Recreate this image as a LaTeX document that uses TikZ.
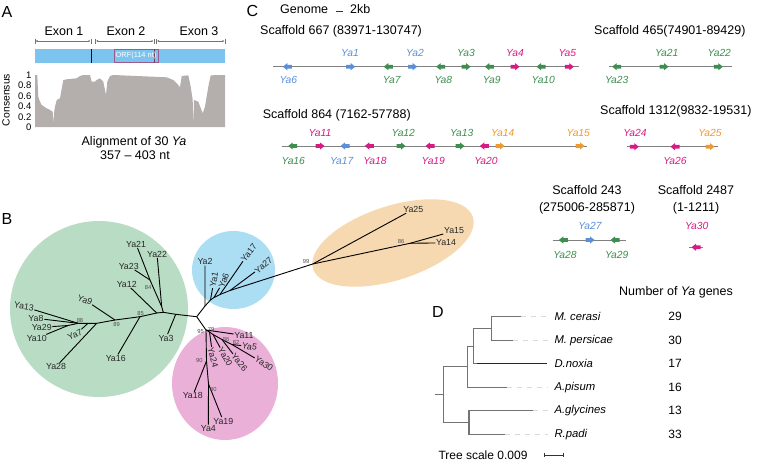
\documentclass[tikz,border=0pt]{standalone}
\usepackage{fontspec}
\setmainfont{Liberation Sans}
\usetikzlibrary{positioning, calc, arrows.meta}

\definecolor{yablue}{HTML}{5B8FD9}
\definecolor{yagreen}{HTML}{3E8E4F}
\definecolor{yapink}{HTML}{D81B84}
\definecolor{yaorange}{HTML}{EE9A2E}
\definecolor{barblue}{HTML}{7CC3EE}
\definecolor{orfline}{HTML}{9B5B8F}
\definecolor{consgray}{HTML}{B4AEAD}
\definecolor{cladegreen}{HTML}{B9DDC4}
\definecolor{cladeblue}{HTML}{ABDDF3}
\definecolor{cladeorange}{HTML}{F6D9B1}
\definecolor{cladepink}{HTML}{EAB0D7}

\tikzset{
  panel/.style={font=\fontsize{16}{16}\selectfont, inner sep=0pt},
  txt/.style={font=\fontsize{12.5}{16.6}\selectfont, inner sep=0pt},
  axlab/.style={font=\fontsize{9.5}{10}\selectfont, inner sep=0pt},
  genelab/.style={font=\fontsize{10.3}{12}\selectfont\itshape, inner sep=0pt},
  leaf/.style={font=\fontsize{8.8}{10}\selectfont, inner sep=0.6pt, text=black!85},
  boot/.style={font=\fontsize{5.8}{6}\selectfont, inner sep=0pt, text=black!70},
  branch/.style={line width=0.9pt, black},
  scaf/.style={line width=0.8pt, black!50},
  dimline/.style={line width=0.5pt, black!55},
  dtree/.style={line width=1.1pt, black!55},
  dext/.style={line width=0.8pt, black!15, dash pattern=on 5pt off 5pt},
}

\begin{document}
\begin{tikzpicture}[x=1pt, y=-1pt]
\useasboundingbox (0,0) rectangle (757,464);

% ---------- A: exon structure and consensus
\node[panel] (pA) at (7,12) {A};
\node[txt] (ex1) at (64,31) {Exon 1};
\node[txt] (ex2) at (126,31) {Exon 2};
\node[txt] (ex3) at (199,31) {Exon 3};
\foreach \a/\b in {35/91, 95.5/154, 156.5/225} {
  \draw[dimline, {Latex[length=2pt,width=2pt]}-{Latex[length=2pt,width=2pt]}] (\a+0.5,41) -- (\b-0.5,41);
  \draw[dimline] (\a,38.5) -- (\a,43.5) (\b,38.5) -- (\b,43.5);
}
\fill[barblue] (35,49) rectangle (225,63);
\draw[blue!45!black, line width=0.6pt] (91,49) -- (91,63);
\draw[orfline, line width=0.7pt] (114,49.3) rectangle (158,62.7);
\draw[orfline!70!black, line width=0.6pt] (154,49.3) -- (154,62.7);
\node[font=\fontsize{7.4}{8}\selectfont, text=white, inner sep=0pt] (orf) at (136,56) {ORF(114 nt)};

\fill[consgray] (35,127) -- (35,75) -- (37.3,75) -- (38.3,96.7) -- (39.3,100) -- (41.7,105)
  -- (46.7,108.3) -- (50,110) -- (52.7,111.7) -- (53.3,123.3) -- (54.3,111) -- (55,106.7)
  -- (56.7,100) -- (60,98.3) -- (63.3,80) -- (66.7,79.3) -- (76.7,78.3) -- (80,76) -- (83.3,75)
  -- (90,75) -- (91.7,81.7) -- (95,81.7) -- (96.7,80) -- (100,78.3) -- (103.3,81.7) -- (106,95)
  -- (107.3,81.7) -- (110,76) -- (113.3,75) -- (166.7,77.3) -- (173.3,80) -- (178.3,85)
  -- (180,87.3) -- (181.7,76) -- (188.3,75.3) -- (190.7,86.7) -- (192.7,100) -- (193.3,127)
  -- (194,100) -- (198.3,101.7) -- (202.7,113.3) -- (205,106.7) -- (208.3,86.7) -- (210.7,75.3)
  -- (225,75) -- (225,127) -- cycle;
\foreach \v/\yy in {1/75, 0.8/85.5, 0.6/96, 0.4/106.5, 0.2/117, 0/127.3}
  \node[axlab, anchor=east] at (31.5,\yy) {\v};
\node[axlab, font=\fontsize{10.4}{11}\selectfont, rotate=90] (cons) at (6,100) {Consensus};
\node[txt] (aln1) at (134,142) {Alignment of 30 \textit{Ya}};
\node[txt] (aln2) at (135,155.5) {357 -- 403 nt};

% ---------- B: tree of Ya genes
\node[panel] (pB) at (7,219) {B};
\fill[cladegreen] (99,309) ellipse [x radius=89, y radius=88];
\fill[cladeblue] (233.5,270) ellipse [x radius=41.5, y radius=39];
\fill[cladeorange, rotate around={18:(393,243)}] (393,243) ellipse [x radius=84, y radius=37];
\fill[cladepink] (225,383.5) ellipse [x radius=53, y radius=56.5];

% inner nodes
\coordinate (r) at (196.7,316.7);
\coordinate (g1) at (175.7,314.3);
\coordinate (g2) at (163.3,312.3);
\coordinate (g3) at (156.7,313);
\coordinate (h1) at (161.7,306.7);
\coordinate (n84) at (150,280);
\coordinate (n85) at (140,316.7);
\coordinate (n89) at (115,320);
\coordinate (g6) at (96.7,323.3);
\coordinate (g7) at (88,323.3);
\coordinate (n88) at (78.3,323.3);
\coordinate (s1) at (68,325.5);
\coordinate (b1) at (205,306);
\coordinate (b2) at (210.5,300);
\coordinate (b3) at (214,297.5);
\coordinate (b4) at (220,294.5);
\coordinate (b5) at (230,290.5);
\coordinate (n99) at (312.7,264);
\coordinate (n86) at (410,243.3);
\coordinate (p1) at (206,330);
\coordinate (p79) at (209.5,332);
\coordinate (p2) at (213,334.5);
\coordinate (p86) at (222,339.5);
\coordinate (p82) at (232,344.5);
\coordinate (q90) at (206.5,361);
\coordinate (q80) at (208.5,384);

% leaf labels
\node[leaf] (lYa21) at (136,244) {Ya21};
\node[leaf] (lYa22) at (157,254) {Ya22};
\node[leaf] (lYa23) at (128.7,266) {Ya23};
\node[leaf] (lYa12) at (126.7,284) {Ya12};
\node[leaf] (lYa3) at (166,338) {Ya3};
\node[leaf] (lYa16) at (115.7,358.3) {Ya16};
\node[leaf, rotate=-20] (lYa9) at (85,300) {Ya9};
\node[leaf] (lYa28) at (56,366.7) {Ya28};
\node[leaf, rotate=25] (lYa7) at (75,335) {Ya7};
\node[leaf, rotate=-10] (lYa13) at (24,306.7) {Ya13};
\node[leaf] (lYa8) at (36,318.3) {Ya8};
\node[leaf] (lYa29) at (41.7,327.3) {Ya29};
\node[leaf] (lYa10) at (36.7,338.3) {Ya10};
\node[leaf] (lYa2) at (205,261.7) {Ya2};
\node[leaf, rotate=80] (lYa1) at (214,280) {Ya1};
\node[leaf, rotate=70] (lYa6) at (223.8,280.5) {Ya6};
\node[leaf, rotate=52] (lYa17) at (249,252.5) {Ya17};
\node[leaf, rotate=40] (lYa27) at (263.5,265.5) {Ya27};
\node[leaf] (lYa25) at (413.3,209.3) {Ya25};
\node[leaf] (lYa15) at (454,231) {Ya15};
\node[leaf] (lYa14) at (446,242.8) {Ya14};
\node[leaf] (lYa11) at (244,335.5) {Ya11};
\node[leaf, rotate=-10] (lYa5) at (249.5,346.5) {Ya5};
\node[leaf, rotate=-35] (lYa30) at (264,363.5) {Ya30};
\node[leaf, rotate=-50] (lYa26) at (239.5,362.5) {Ya26};
\node[leaf, rotate=-60] (lYa20) at (225.3,357) {Ya20};
\node[leaf, rotate=-75] (lYa24) at (213,357.5) {Ya24};
\node[leaf] (lYa18) at (192.7,395.7) {Ya18};
\node[leaf] (lYa19) at (223.3,421) {Ya19};
\node[leaf] (lYa4) at (208.3,428.5) {Ya4};

% branches
\draw[branch] (r) -- (g1) -- (g2) -- (g3) -- (n85) -- (n89) -- (g6) -- (g7) -- (n88);
\draw[branch] (g1) -- (lYa3);
\draw[branch] (g2) -- (h1) -- (lYa22);
\draw[branch] (h1) -- (n84) -- (lYa21);
\draw[branch] (n84) -- (lYa23);
\draw[branch] (g3) -- (lYa12);
\draw[branch] (n85) -- (lYa16);
\draw[branch] (n89) -- (lYa9);
\draw[branch] (g6) -- (lYa28);
\draw[branch] (g7) -- (lYa7);
\draw[branch] (n88) -- (lYa13);
\draw[branch] (n88) -- (lYa8);
\draw[branch] (n88) -- (s1) -- (lYa29);
\draw[branch] (s1) -- (lYa10);
\draw[branch] (r) -- (b1) -- (lYa2);
\draw[branch] (b1) -- (b2) -- (b3) -- (b4) -- (b5) -- (n99);
\draw[branch] (b2) -- (lYa1);
\draw[branch] (b3) -- (lYa6);
\draw[branch] (b4) -- (lYa17);
\draw[branch] (b5) -- (lYa27);
\draw[branch] (n99) -- (lYa25);
\draw[branch] (n99) -- (n86) -- (lYa15);
\draw[branch] (n86) -- (lYa14);
\draw[branch] (r) -- (p1) -- (lYa11);
\draw[branch] (p1) -- (p79) -- (p2) -- (p86) -- (p82);
\draw[branch] (p79) -- (lYa24);
\draw[branch] (p2) -- (lYa20);
\draw[branch] (p86) -- (lYa26);
\draw[branch] (p82) -- (lYa5);
\draw[branch] (p82) -- (lYa30);
\draw[branch] (p1) -- (q90) -- (lYa18);
\draw[branch] (q90) -- (q80) -- (lYa19);
\draw[branch] (q80) -- (lYa4);

% bootstrap values
\foreach \bx/\by/\bv in {140.7/313/85, 148/287.3/84, 116.7/324/89, 80/320.7/88,
    306/261.5/99, 401/241.5/86, 200.5/331.5/95, 211/329.5/79, 226/339/86,
    236/342.3/82, 199.3/360.5/90, 213.3/389.5/80}
  \node[boot] at (\bx,\by) {\bv};

% ---------- C: gene positions on scaffolds
\node[panel] (pC) at (252.5,10.5) {C};
\node[txt, anchor=west] (genome) at (280,9.3) {Genome};
\coordinate (kb0) at (336,11);
\coordinate (kb1) at (343.3,11);
\draw[line width=0.9pt, black!80] (kb0) -- (kb1);
\node[txt, anchor=west] (kb) at (350,9.3) {2kb};

\node[txt, anchor=west] (t667) at (260,31) {Scaffold 667 (83971-130747)};
\node[txt, anchor=west] (t465) at (594,31.7) {Scaffold 465(74901-89429)};
\node[txt, anchor=west] (t864) at (262.7,115) {Scaffold 864 (7162-57788)};
\node[txt, anchor=west] (t1312) at (600,111.5) {Scaffold 1312(9832-19531)};
\node[txt, align=center] (t243) at (587,200) {Scaffold 243\\(275006-285871)};
\node[txt, align=center] (t2487) at (696,200) {Scaffold 2487\\(1-1211)};

\foreach \sa/\sb/\sy in {273.3/579.3/66.7, 609.3/731.7/66.7, 281.7/586.7/146,
    627.3/718.3/146.7, 552.7/625.7/240, 689/702.7/247.3}
  \draw[scaf] (\sa,\sy) -- (\sb,\sy);

\foreach \gx/\gy/\gd/\gc/\gn/\lx/\ly in {
    287.3/66.7/-1/yablue/Ya6/288.3/80, 350.7/66.7/1/yablue/Ya1/350/53.3,
    388.3/66.7/-1/yagreen/Ya7/391.7/80, 412.7/66.7/1/yablue/Ya2/415/53.3,
    440.7/66.7/-1/yagreen/Ya8/443.3/80, 466/66.7/1/yagreen/Ya3/466/53.3,
    489.3/66.7/-1/yagreen/Ya9/491.7/80, 515/66.7/1/yapink/Ya4/515/53.3,
    541/66.7/-1/yagreen/Ya10/543.3/80, 569.3/66.7/1/yapink/Ya5/567.3/53.3,
    616.7/66.7/-1/yagreen/Ya23/616.7/80, 664/66.7/1/yagreen/Ya21/666.7/52.7,
    718.3/66.7/1/yagreen/Ya22/719.3/52.7,
    292.7/146/-1/yagreen/Ya16/293.3/160.7, 320/146/1/yapink/Ya11/320/133.3,
    345/146/-1/yablue/Ya17/341.7/160.7, 369.3/146/-1/yapink/Ya18/375/160.7,
    401/146/1/yagreen/Ya12/403.3/133.3, 430/146/-1/yapink/Ya19/433.3/160.7,
    460/146/1/yagreen/Ya13/461.7/133.3, 484.3/146/-1/yapink/Ya20/486/160.7,
    500/146/1/yaorange/Ya14/502.7/133.3, 580/146/1/yaorange/Ya15/578.3/133.3,
    634.3/146.7/1/yapink/Ya24/635/133.3, 675/146.7/-1/yapink/Ya26/675/160.7,
    710/146.7/1/yaorange/Ya25/710/133.3,
    563.3/240/-1/yagreen/Ya28/565/255, 590/240/1/yablue/Ya27/590/226,
    615/240/-1/yagreen/Ya29/616.7/255, 696/247.3/-1/yapink/Ya30/696.7/226} {
  \fill[\gc, shift={(\gx,\gy)}, xscale=\gd] (-4.5,-1.9) rectangle (0,1.9)
    (0,-3.6) -- (4.5,0) -- (0,3.6) -- cycle;
  \node[genelab, text=\gc] (g\gn) at (\lx,\ly) {\gn};
}

% ---------- D: species tree
\node[panel] (pD) at (438,312) {D};
\node[txt] (hdr) at (676,292) {Number of \textit{Ya} genes};
\foreach \i/\sp/\num in {1/M. cerasi/29, 2/M. persicae/30, 3/D.noxia/17,
    4/A.pisum/16, 5/A.glycines/13, 6/R.padi/33} {
  \node[txt, font=\fontsize{11.3}{12}\selectfont\itshape, anchor=west] (sp\i) at (554.3,316.7+\i*23.5-23.5) {\sp};
  \node[txt, font=\fontsize{12}{12}\selectfont] (nm\i) at (675,316.7+\i*23.5-23.5) {\num};
}
\coordinate (l1) at (520.7,316.7);
\coordinate (l2) at (513.3,340.2);
\coordinate (l3) at (546.7,363.7);
\coordinate (l4) at (507.3,387.2);
\coordinate (l5) at (533,410.7);
\coordinate (l6) at (505,434.2);
\coordinate (j1) at (491.7,328.5);
\coordinate (j2) at (473.3,346.1);
\coordinate (j3) at (467.3,366.7);
\coordinate (j4) at (469,422.5);
\coordinate (j0) at (443.3,394.6);
\coordinate (jr) at (435,394.6);
\draw[dtree] (j1) |- (l1);
\draw[dtree] (j1) |- (l2);
\draw[dtree] (j2) |- (j1);
\draw[dtree] (j2) |- ($(l3)+(-70,0)$);
\draw[line width=1.1pt, black!85] ($(l3)+(-70,0)$) -- (l3);
\draw[dtree] (j3) |- (j2);
\draw[dtree] (j3) |- (l4);
\draw[dtree] (j4) |- (l5);
\draw[dtree] (j4) |- (l6);
\draw[dtree] (j0) |- (j3);
\draw[dtree] (j0) |- (j4);
\draw[dtree] (jr) -- (j0);
\foreach \i in {1,2,4,5,6}
  \draw[dext, shorten >=6pt] (l\i) -- (sp\i.west);

\node[txt, font=\fontsize{12}{12}\selectfont, anchor=west] (tsc) at (438.3,455) {Tree scale 0.009};
\coordinate (ts0) at (544,455);
\coordinate (ts1) at (563.3,455);
\draw[line width=0.7pt, black!80, {Bar[width=4pt]}-{Bar[width=4pt]}] (ts0) -- (ts1);
\end{tikzpicture}
\end{document}
